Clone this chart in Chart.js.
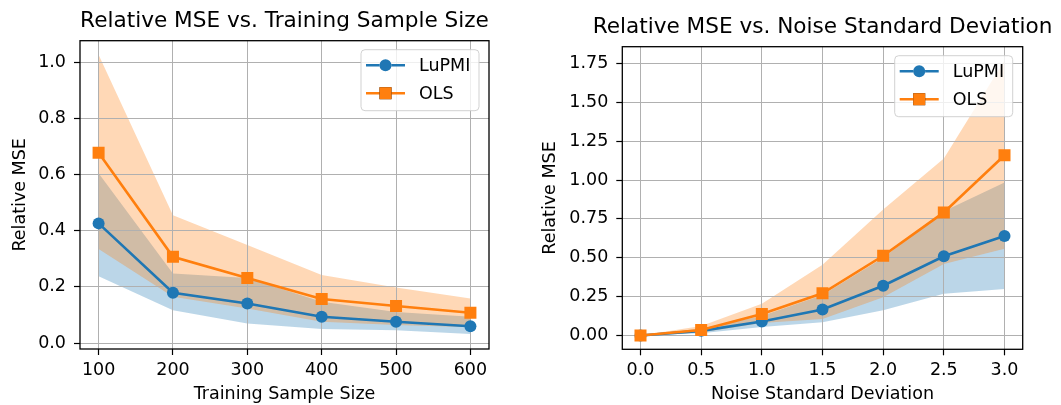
<!DOCTYPE html>
<html>
<head>
<meta charset="utf-8">
<script src="https://cdn.jsdelivr.net/npm/chart.js@4.4.1/dist/chart.umd.min.js"></script>
<style>
  html, body { margin: 0; padding: 0; background: #fff; }
  #wrap { position: relative; width: 1061px; height: 405px; overflow: hidden; }
  canvas { position: absolute; top: 0; }
</style>
</head>
<body>
<div id="wrap">
  <canvas id="chart-size" width="530" height="405" style="left:0"></canvas>
  <canvas id="chart-noise" width="531" height="405" style="left:530px"></canvas>
</div>
<script>
// ── left panel: training sample size ──
const sizeX = [100, 200, 300, 400, 500, 600];
const sizeLupmi = [0.426, 0.179, 0.141, 0.094, 0.076, 0.060];
const sizeOls = [0.677, 0.307, 0.232, 0.157, 0.132, 0.108];
const sizeLupmiLo = [0.238, 0.117, 0.070, 0.050, 0.046, 0.032];
const sizeLupmiHi = [0.604, 0.248, 0.232, 0.147, 0.111, 0.094];
const sizeOlsLo = [0.335, 0.165, 0.123, 0.076, 0.064, 0.056];
const sizeOlsHi = [1.026, 0.455, 0.349, 0.242, 0.198, 0.159];
const sizeXTicks = [100, 200, 300, 400, 500, 600];
const sizeYTicks = [0.0, 0.2, 0.4, 0.6, 0.8, 1.0];

// ── right panel: noise standard deviation ──
const noiseX = [0.0, 0.5, 1.0, 1.5, 2.0, 2.5, 3.0];
const noiseLupmi = [0.0, 0.030, 0.090, 0.167, 0.320, 0.510, 0.640];
const noiseOls = [0.0, 0.035, 0.138, 0.272, 0.513, 0.792, 1.160];
const noiseLupmiLo = [0.0, 0.015, 0.055, 0.085, 0.162, 0.268, 0.300];
const noiseLupmiHi = [0.0, 0.045, 0.125, 0.260, 0.500, 0.800, 0.985];
const noiseOlsLo = [0.0, 0.020, 0.080, 0.107, 0.247, 0.460, 0.558];
const noiseOlsHi = [0.0, 0.062, 0.204, 0.455, 0.810, 1.138, 1.770];
const noiseXTicks = [0.0, 0.5, 1.0, 1.5, 2.0, 2.5, 3.0];
const noiseYTicks = [0.0, 0.25, 0.5, 0.75, 1.0, 1.25, 1.5, 1.75];

const BLUE = "#1f77b4", ORANGE = "#ff7f0e";
const FONT = "'DejaVu Sans', sans-serif";

const pts = (xs, ys) => xs.map((x, i) => ({ x, y: ys[i] }));

// black frame on all four sides, like matplotlib spines
const framePlugin = {
  id: "frame",
  afterDatasetsDraw(chart) {
    const { ctx, chartArea: a } = chart;
    ctx.save();
    ctx.strokeStyle = "#000";
    ctx.lineWidth = 1.3;
    ctx.strokeRect(a.left, a.top, a.right - a.left, a.bottom - a.top);
    ctx.restore();
  },
};

// title centred over the plot area, allowed to run wider than it
const axesTitlePlugin = {
  id: "axesTitle",
  afterDraw(chart, args, opts) {
    const { ctx, chartArea: a } = chart;
    ctx.save();
    ctx.fillStyle = "#000";
    ctx.font = "21.6px " + FONT;
    ctx.textAlign = "center";
    ctx.textBaseline = "middle";
    ctx.fillText(opts.text, (a.left + a.right) / 2, a.top - 19);
    ctx.restore();
  },
};

// matplotlib-style legend box in the upper right of the plot area
const boxLegendPlugin = {
  id: "boxLegend",
  afterDraw(chart, args, opts) {
    const { ctx, chartArea: a } = chart;
    const w = 118, h = 61;
    const x0 = a.right - 10 - w, y0 = a.top + 9;
    ctx.save();
    ctx.beginPath();
    ctx.roundRect(x0, y0, w, h, 4);
    ctx.fillStyle = "rgba(255,255,255,0.8)";
    ctx.fill();
    ctx.strokeStyle = "rgba(204,204,204,0.9)";
    ctx.lineWidth = 1;
    ctx.stroke();
    opts.items.forEach((idx, row) => {
      const ds = chart.data.datasets[idx];
      const cy = y0 + 15.5 + row * 28;
      ctx.strokeStyle = ds.borderColor;
      ctx.lineWidth = ds.borderWidth;
      ctx.beginPath();
      ctx.moveTo(x0 + 5, cy);
      ctx.lineTo(x0 + 44, cy);
      ctx.stroke();
      Chart.helpers.drawPoint(ctx, {
        pointStyle: ds.pointStyle,
        radius: ds.pointRadius,
        borderWidth: 0,
      }, x0 + 24.5, cy);
      ctx.fillStyle = ds.pointBackgroundColor;
      ctx.fill();
      ctx.fillStyle = "#000";
      ctx.font = "17.5px " + FONT;
      ctx.textBaseline = "middle";
      ctx.textAlign = "left";
      ctx.fillText(ds.label, x0 + 58, cy + 1);
    });
    ctx.restore();
  },
};

function lineSet(label, data, color, style, radius) {
  return {
    label, data,
    borderColor: color,
    backgroundColor: color,
    pointBackgroundColor: color,
    borderWidth: 2.6,
    pointStyle: style,
    pointRadius: radius,
    pointHoverRadius: radius,
    pointBorderWidth: 0,
    fill: false,
    tension: 0,
  };
}

function bandSet(data, color, fill) {
  return {
    label: "",
    data,
    showLine: false,
    borderWidth: 0,
    pointRadius: 0,
    backgroundColor: color,
    fill,
  };
}

function makePanel(id, cfg) {
  const datasets = [
    lineSet("OLS", pts(cfg.x, cfg.ols), ORANGE, "rect", 8.5),
    lineSet("LuPMI", pts(cfg.x, cfg.lupmi), BLUE, "circle", 6),
    bandSet(pts(cfg.x, cfg.olsHi), "rgba(255,127,14,0.3)", "+1"),
    bandSet(pts(cfg.x, cfg.olsLo), "rgba(255,127,14,0.3)", false),
    bandSet(pts(cfg.x, cfg.lupmiHi), "rgba(31,119,180,0.3)", "+1"),
    bandSet(pts(cfg.x, cfg.lupmiLo), "rgba(31,119,180,0.3)", false),
  ];
  const tickFont = { family: FONT, size: 17.5 };
  return new Chart(document.getElementById(id), {
    type: "line",
    data: { datasets },
    plugins: [framePlugin, axesTitlePlugin, boxLegendPlugin],
    options: {
      responsive: false,
      animation: false,
      events: [],
      layout: { padding: { left: 0, right: cfg.padRight, top: cfg.padTop, bottom: 0 } },
      plugins: {
        legend: { display: false },
        tooltip: { enabled: false },
        title: { display: false },
        filler: { drawTime: "beforeDraw" },
        boxLegend: { items: [1, 0] },
        axesTitle: { text: cfg.title },
      },
      scales: {
        x: {
          type: "linear",
          min: cfg.xMin, max: cfg.xMax,
          afterBuildTicks: s => { s.ticks = cfg.xTicks.map(v => ({ value: v })); },
          afterFit: s => { s.height = cfg.xHeight; },
          ticks: {
            color: "#000", font: tickFont, padding: 5, maxRotation: 0,
            callback: cfg.xFmt,
          },
          grid: { color: "#b0b0b0", lineWidth: 1, tickColor: "#000", tickWidth: 1.2, tickLength: 6 },
          border: { display: false },
          title: {
            display: true, text: cfg.xLabel, color: "#000",
            font: { family: FONT, size: 17.5, lineHeight: 1.2 },
            padding: { top: 0, bottom: 0 },
          },
        },
        y: {
          type: "linear",
          min: cfg.yMin, max: cfg.yMax,
          afterBuildTicks: s => { s.ticks = cfg.yTicks.map(v => ({ value: v })); },
          afterFit: s => { s.width = cfg.yWidth; },
          ticks: {
            color: "#000", font: tickFont, padding: 8,
            callback: cfg.yFmt,
          },
          grid: { color: "#b0b0b0", lineWidth: 1, tickColor: "#000", tickWidth: 1.2, tickLength: 6 },
          border: { display: false },
          title: {
            display: true, text: "Relative MSE", color: "#000",
            font: { family: FONT, size: 17.5, lineHeight: 1.2 },
            padding: { top: 9.5, bottom: 0 },
          },
        },
      },
    },
  });
}

makePanel("chart-size", {
  title: "Relative MSE vs. Training Sample Size",
  padTop: 40.7,
  x: sizeX, lupmi: sizeLupmi, ols: sizeOls,
  lupmiLo: sizeLupmiLo, lupmiHi: sizeLupmiHi, olsLo: sizeOlsLo, olsHi: sizeOlsHi,
  xMin: 75, xMax: 625, yMin: -0.021, yMax: 1.076,
  xTicks: sizeXTicks, yTicks: sizeYTicks,
  xFmt: v => String(v), yFmt: v => v.toFixed(1),
  xLabel: "Training Sample Size",
  yWidth: 80, xHeight: 56, padRight: 41,
});

makePanel("chart-noise", {
  title: "Relative MSE vs. Noise Standard Deviation",
  padTop: 46.7,
  x: noiseX, lupmi: noiseLupmi, ols: noiseOls,
  lupmiLo: noiseLupmiLo, lupmiHi: noiseLupmiHi, olsLo: noiseOlsLo, olsHi: noiseOlsHi,
  xMin: -0.15, xMax: 3.15, yMin: -0.0886, yMax: 1.858,
  xTicks: noiseXTicks, yTicks: noiseYTicks,
  xFmt: v => v.toFixed(1), yFmt: v => v.toFixed(2),
  xLabel: "Noise Standard Deviation",
  yWidth: 92.3, xHeight: 55.7, padRight: 38.3,
});
</script>
</body>
</html>
